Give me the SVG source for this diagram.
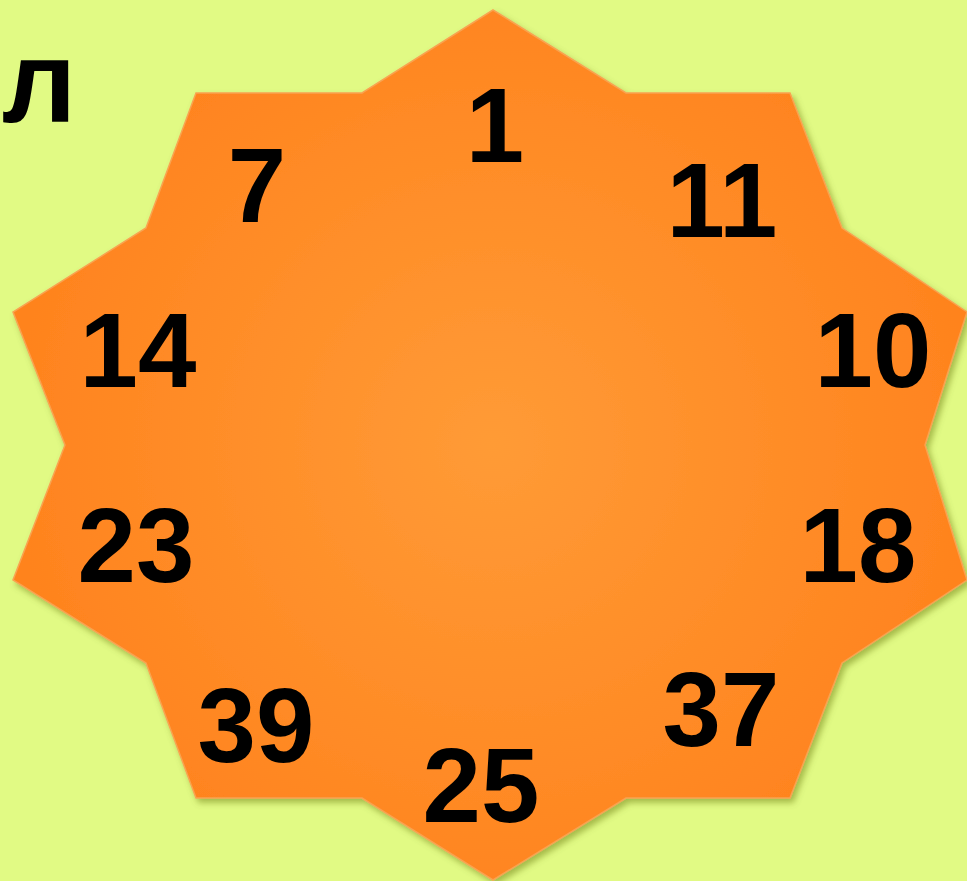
<svg xmlns="http://www.w3.org/2000/svg" width="967" height="881" viewBox="0 0 967 881">
<style>
.num{font-family:"Liberation Sans","Arial",sans-serif;font-weight:bold;font-size:105px;fill:#000;text-anchor:middle}
.lbl{font-family:"Liberation Sans","Arial",sans-serif;font-weight:bold;font-size:117px;fill:#000}
</style>
<defs>
<radialGradient id="g" cx="493" cy="445" r="480" gradientUnits="userSpaceOnUse">
<stop offset="0" stop-color="#FF9B36"/>
<stop offset="1" stop-color="#FF831E"/>
</radialGradient>
<filter id="sh" x="-5%" y="-5%" width="110%" height="110%">
<feDropShadow dx="3" dy="4" stdDeviation="3" flood-color="#5a6a10" flood-opacity="0.45"/>
</filter>
</defs>
<rect width="967" height="881" fill="#E1FA84"/>
<text class="lbl" x="2" y="122">л</text>
<g id="star">
<polygon filter="url(#sh)" fill="url(#g)" stroke="#F9A350" stroke-width="1.5" points="493,10 626,93 790,93 842,228 967,312 925,445 967,580 842,663 790,798 626,798 493,880 362,798 196,798 146,663 13,580 65,445 13,312 146,228 196,93 362,93"/>
</g>
<g id="labels">
<text id="n1" class="num" x="495" y="162">1</text>
<text id="n7" class="num" x="257" y="222">7</text>
<text id="n11" class="num" x="722" y="237">11</text>
<text id="n14" class="num" x="138" y="387">14</text>
<text id="n10" class="num" x="873" y="387">10</text>
<text id="n23" class="num" x="136" y="582">23</text>
<text id="n18" class="num" x="858" y="582">18</text>
<text id="n39" class="num" x="256" y="762">39</text>
<text id="n25" class="num" x="481" y="822">25</text>
<text id="n37" class="num" x="721" y="746">37</text>
</g>
<g id="connectors"/>
</svg>
